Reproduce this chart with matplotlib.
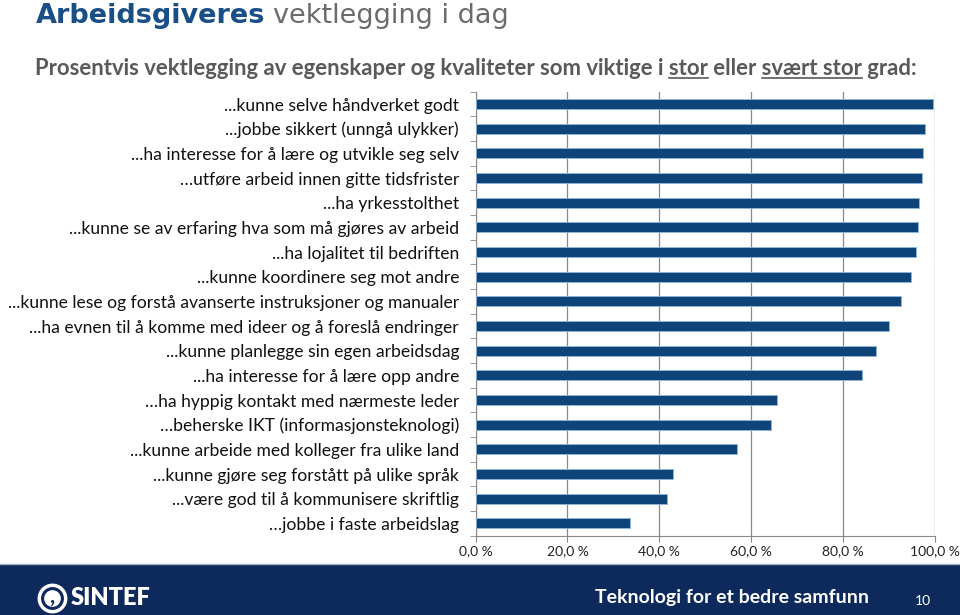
import numpy as np
import matplotlib.pyplot as plt
from matplotlib.patches import Rectangle
from matplotlib.lines import Line2D

labels = ['...kunne selve håndverket godt',
          '...jobbe sikkert (unngå ulykker)',
          '...ha interesse for å lære og utvikle seg selv',
          '…utføre arbeid innen gitte tidsfrister',
          '...ha yrkesstolthet',
          '...kunne se av erfaring hva som må gjøres av arbeid',
          '...ha lojalitet til bedriften',
          '...kunne koordinere seg mot andre',
          '...kunne lese og forstå avanserte instruksjoner og manualer',
          '...ha evnen til å komme med ideer og å foreslå endringer',
          '...kunne planlegge sin egen arbeidsdag',
          '...ha interesse for å lære opp andre',
          '…ha hyppig kontakt med nærmeste leder',
          '…beherske IKT (informasjonsteknologi)',
          '...kunne arbeide med kolleger fra ulike land',
          '...kunne gjøre seg forstått på ulike språk',
          '...være god til å kommunisere skriftlig',
          '…jobbe i faste arbeidslag']
values = [99.7, 98.0, 97.5, 97.2, 96.7, 96.3, 95.9, 94.8, 92.8, 90.0,
          87.3, 84.3, 65.6, 64.4, 57.0, 43.1, 41.7, 33.6]
xticks = [0, 20, 40, 60, 80, 100]

plt.rcParams['font.family'] = ['Lato', 'DejaVu Sans']

fig = plt.figure(figsize=(9.6, 6.15), dpi=100)
W, H = 960, 615

# chart area
ax = fig.add_axes([475.7 / W, 79.3 / H, 458.8 / W, 444 / H])
y = np.arange(len(labels))
ax.barh(y, values, height=0.4, color='#0f4479', edgecolor='#8fb8dc', linewidth=0.6, zorder=3)
ax.set_xlim(0, 100)
ax.set_ylim(len(labels) - 0.5, -0.5)
ax.set_xticks(xticks)
ax.set_xticklabels(['%d,0 %%' % v for v in xticks], fontsize=10, color='#222222')
ax.set_yticks(y)
ax.set_yticklabels(labels, fontsize=12.6, color='#111111')
ax.set_yticks(np.arange(len(labels) + 1) - 0.5, minor=True)
ax.tick_params(axis='y', which='major', length=0, pad=12)
ax.tick_params(axis='y', which='minor', length=4, color='#888888', direction='out')
ax.tick_params(axis='x', length=4, color='#888888', pad=3)
ax.grid(axis='x', color='#8a8a8a', linewidth=0.9, zorder=0)
for s in ['top', 'right']:
    ax.spines[s].set_visible(False)
for s in ['left', 'bottom']:
    ax.spines[s].set_color('#888888')

# title
fig.canvas.draw()
r = fig.canvas.get_renderer()
t1 = fig.text(36 / W, 1 - 23 / H, 'Arbeidsgiveres', fontsize=19.5, fontweight='bold',
              color='#1a4e86', va='baseline', family='DejaVu Sans')
bb = t1.get_window_extent(r)
fig.text((bb.x1 + 8) / W, 1 - 23 / H, 'vektlegging i dag', fontsize=19.5,
         color='#6b6b6b', va='baseline', family='DejaVu Sans')

# subtitle with underlined words, sized to span the same width as the original
parts = [('Prosentvis vektlegging av egenskaper og kvaliteter som viktige i ', False),
         ('stor', True), (' eller ', False), ('svært stor', True), (' grad:', False)]
full_text = ''.join(p[0] for p in parts)
x0 = 35
sub_y = 75
tmp = fig.text(0, 0, full_text, fontsize=10, fontweight='bold')
fs = 10 * 883 / tmp.get_window_extent(r).width
tmp.remove()
full = ''
for txt, ul in parts:
    start = x0
    if full:
        tmp = fig.text(x0 / W, 0.5, full, fontsize=fs, fontweight='bold')
        start = tmp.get_window_extent(r).x1
        tmp.remove()
    full += txt
    tmp = fig.text(x0 / W, 0.5, full, fontsize=fs, fontweight='bold')
    end = tmp.get_window_extent(r).x1
    tmp.remove()
    if ul:
        fig.add_artist(Line2D([start / W, end / W], [1 - (sub_y + 3) / H] * 2,
                              color='#595959', linewidth=1.2))
fig.text(x0 / W, 1 - sub_y / H, full, fontsize=fs, fontweight='bold', color='#595959',
         va='baseline')

# footer banner
fig.add_artist(Rectangle((0, 0), 1, 50 / H, transform=fig.transFigure,
                         color='#0e2a5c', zorder=0))
fig.add_artist(Line2D([0, 1], [51 / H] * 2, color='#9fb0c8', linewidth=1))
ly = 1 - 598 / H
fig.add_artist(Line2D([52 / W], [ly], marker='o', markersize=19, markerfacecolor='none',
                      markeredgecolor='white', markeredgewidth=2.5))
fig.add_artist(Line2D([52 / W], [ly], marker='o', markersize=11, markerfacecolor='white',
                      markeredgecolor='white'))
fig.text(53 / W, ly + 2 / H, ',', fontsize=16, fontweight='bold', color='#0e2a5c',
         ha='center', va='center')
fig.text(71 / W, ly, 'SINTEF', fontsize=17, fontweight='heavy', color='white',
         va='center')
fig.text(595 / W, ly, 'Teknologi for et bedre samfunn', fontsize=14,
         fontweight='bold', color='white', va='center')
fig.text(915 / W, 1 - 601 / H, '10', fontsize=10, color='white', va='center')

fig.savefig('out.png', dpi=100)
